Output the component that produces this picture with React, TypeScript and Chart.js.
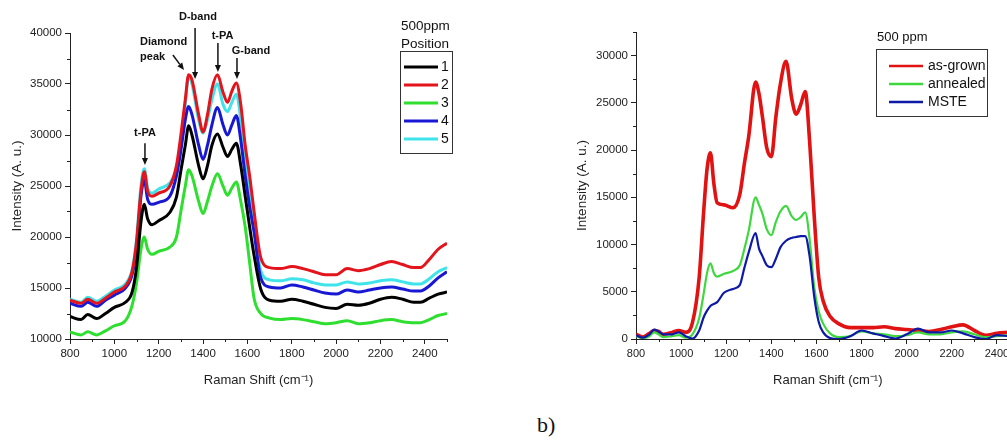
import React, { useEffect, useRef } from "react";
import { Chart, registerables } from "chart.js";

Chart.register(...registerables);

const FONT = '"Liberation Sans", Arial, sans-serif';
const AXIS = "#222";

// ---------- tick labels ----------
const xTickValues = [800, 1000, 1200, 1400, 1600, 1800, 2000, 2200, 2400];
const leftYTickValues = [10000, 15000, 20000, 25000, 30000, 35000, 40000];
const rightYTickValues = [0, 5000, 10000, 15000, 20000, 25000, 30000];

// ---------- Left panel: 500ppm, positions 1-5 ----------
const shiftLeft = [
  800, 850, 880, 920, 960, 1000, 1050, 1080, 1100, 1120,
  1135, 1150, 1170, 1200, 1250, 1280, 1300, 1320, 1335, 1350,
  1380, 1400, 1420, 1440, 1465, 1490, 1510, 1530, 1550, 1570,
  1590, 1610, 1630, 1660, 1700, 1750, 1800, 1850, 1900, 1950,
  2000, 2050, 2100, 2150, 2200, 2250, 2300, 2350, 2380, 2420, 2460, 2500,
];
const position1 = [
  12200, 11900, 12400, 12000, 12500, 13100, 13600, 14600, 17000, 21500,
  23200, 21800, 21200, 21600, 22400, 23900, 26500, 29000, 30900, 30000,
  27000, 25700, 27000, 29000, 30100, 28800, 27900, 28600, 29200, 27000,
  24000, 21000, 18200, 14900, 13800, 13700, 13900, 13700, 13400, 13100,
  13000, 13400, 13300, 13500, 13900, 14100, 13900, 13600, 13600, 14000, 14400, 14600,
];
const position2 = [
  13800, 13500, 13900, 13500, 14000, 14600, 15200, 16600, 19500, 24500,
  26400, 24500, 24000, 24300, 25000, 27000, 30000, 33500, 35900, 35400,
  32000, 30300, 32000, 34500, 35900, 34200, 33200, 34300, 35100, 33000,
  29000, 26000, 22500, 18000, 17000, 16900, 17100, 16900, 16600, 16300,
  16300, 16900, 16700, 16900, 17300, 17600, 17300, 17000, 17000, 17800, 18800, 19400,
];
const position3 = [
  10700, 10400, 10700, 10400, 10800, 11300, 11800, 13300, 15500, 18800,
  20000, 18800, 18300, 18600, 19000, 20000, 22500, 25000, 26600, 26000,
  23500, 22300, 23500, 25000, 26200, 25000, 24100, 24800, 25400, 23500,
  21000, 17500, 14000, 12500, 12050, 11900, 12000, 11900, 11700, 11500,
  11600, 11800, 11500, 11600, 11800, 11900, 11700, 11600, 11600, 11900, 12300, 12500,
];
const position4 = [
  13500, 13200, 13600, 13200, 13800, 14300, 15000, 16300, 19000, 24000,
  25600, 23700, 23200, 23400, 24000, 26000, 28500, 31500, 32800, 32000,
  29000, 27600, 29000, 31000, 32700, 31000, 30000, 31000, 31900, 29500,
  26000, 23000, 20500, 16000, 15100, 15000, 15300, 15100, 14800, 14500,
  14400, 14800, 14600, 14800, 15000, 15100, 14900, 14700, 14700, 15200, 16000, 16600,
];
const position5 = [
  13900, 13600, 14100, 13700, 14200, 14800, 15400, 16800, 19800, 25000,
  26700, 24800, 24300, 24700, 25300, 26600, 28800, 33100, 35800, 35000,
  31500, 30200, 31500, 33500, 35000, 33000, 32300, 33200, 34000, 31500,
  27500, 24000, 21000, 16700, 15800, 15700, 15900, 15800, 15500, 15300,
  15300, 15600, 15400, 15500, 15700, 15800, 15600, 15400, 15400, 15900, 16600, 17000,
];
const leftNames = ["1", "2", "3", "4", "5"];
const leftColors = ["#000000", "#e3141c", "#2fdf2f", "#1818d4", "#3ee4ea"];
const leftSeries = [position1, position2, position3, position4, position5];
const leftLegendTitle = ["500ppm", "Position"];

const peakLabels = [
  { lines: ["t-PA"], textX: 1138, textY: 30200, align: "center", arrow: [1138, 29200, 1138, 27060] },
  { lines: ["Diamond", "peak"], textX: 1116, textY: 39120, align: "left", arrow: [1264, 37840, 1314, 36370] },
  { lines: ["D-band"], textX: 1377, textY: 41570, align: "center", arrow: [1364, 40490, 1364, 35490] },
  { lines: ["t-PA"], textX: 1488, textY: 39700, align: "center", arrow: [1467, 39020, 1467, 36180] },
  { lines: ["G-band"], textX: 1616, textY: 38240, align: "center", arrow: [1553, 37550, 1553, 35490] },
];

// ---------- Right panel: 500 ppm as-grown / annealed / MSTE ----------
const shiftRight = [
  800, 830, 860, 880, 900, 920, 960, 990, 1020, 1050,
  1080, 1100, 1115, 1130, 1145, 1160, 1190, 1230, 1260, 1280,
  1300, 1330, 1345, 1360, 1380, 1400, 1420, 1440, 1465, 1490,
  1510, 1530, 1550, 1570, 1590, 1610, 1630, 1660, 1700, 1750,
  1800, 1850, 1900, 1950, 2000, 2050, 2100, 2150, 2200, 2250,
  2300, 2350, 2400, 2450,
];
const asGrown = [
  500, 200, 600, 900, 800, 500, 700, 900, 700, 1700,
  6500, 13500, 18000, 19700, 16500, 14400, 14200, 13900, 15300, 18500,
  21500, 27200, 26000, 23600, 20200, 19300, 23500, 27000, 29400, 25500,
  23800, 24800, 26200, 20800, 13000, 6500, 4000, 2400, 1600, 1200,
  1200, 1200, 1300, 1100, 1000, 900, 800, 1000, 1300, 1500,
  900, 400, 600, 700,
];
const annealed = [
  300, 100, 300, 700, 500, 200, 300, 400, 150, 500,
  2200, 4800, 7000, 8000, 7000, 6600, 6900, 7200, 7800, 9500,
  11500, 15000, 14200, 13300, 11600, 11000, 12400, 13500, 14100, 13000,
  12600, 12900, 13400, 10500, 5500, 2900, 1600, 600, 200, 300,
  800, 600, 500, 300, 400, 700, 500, 500, 700, 800,
  500, 200, 300, 400,
];
const mste = [
  400, 150, 500, 1000, 800, 500, 500, 700, 300, 50,
  900, 2300, 3000, 3500, 3700, 3900, 4900, 5300, 5700, 7500,
  9200, 11200, 9600, 8800, 7800, 7600, 8500, 9700, 10400, 10700,
  10800, 10900, 10900, 8700, 4500, 1800, 700, 100, 0, 300,
  900, 600, 300, 50, 500, 1100, 700, 700, 900, 600,
  200, 0, 400, 300,
];
const rightNames = ["as-grown", "annealed", "MSTE"];
const rightColors = ["#e01212", "#3ed83e", "#0c1aa6"];
const rightWidths = [3.6, 2.2, 2.2];
const rightSeries = [asGrown, annealed, mste];
const rightLegendTitle = ["500 ppm"];

// ---------- plugins ----------
function minorTicks(xMinor: number, xMajor: number, yMinor: number, yMajor: number) {
  return {
    id: "minorTicks",
    afterDraw(chart: any) {
      const { ctx, chartArea, scales } = chart;
      const x = scales.x, y = scales.y;
      ctx.save();
      ctx.strokeStyle = AXIS;
      ctx.lineWidth = 1;
      ctx.beginPath();
      const nx = Math.round((x.max - x.min) / xMinor);
      for (let i = 0; i <= nx; i++) {
        const v = x.min + i * xMinor;
        if (Math.round(v) % xMajor === 0) continue;
        const px = Math.round(x.getPixelForValue(v)) + 0.5;
        ctx.moveTo(px, chartArea.bottom);
        ctx.lineTo(px, chartArea.bottom + 3);
      }
      const ny = Math.round((y.max - y.min) / yMinor);
      for (let i = 0; i <= ny; i++) {
        const v = y.min + i * yMinor;
        if (Math.round(v) % yMajor === 0) continue;
        const py = Math.round(y.getPixelForValue(v)) + 0.5;
        ctx.moveTo(chartArea.left - 3, py);
        ctx.lineTo(chartArea.left, py);
      }
      ctx.stroke();
      ctx.restore();
    },
  };
}

function boxLegend(cfg: {
  title: string[]; titleX: number; titleY: number; titleGap: number; titleSize: number;
  bx: number; by: number; bw: number; bh: number;
  lx1: number; lx2: number; tx: number; row0: number; rowGap: number; textSize: number; lineWidth: number;
}) {
  return {
    id: "boxLegend",
    afterDraw(chart: any) {
      const ctx = chart.ctx;
      ctx.save();
      ctx.fillStyle = "#111";
      ctx.textBaseline = "middle";
      ctx.textAlign = "left";
      ctx.font = `${cfg.titleSize}px ${FONT}`;
      cfg.title.forEach((t, i) => ctx.fillText(t, cfg.titleX, cfg.titleY + i * cfg.titleGap));
      ctx.fillStyle = "#fff";
      ctx.fillRect(cfg.bx, cfg.by, cfg.bw, cfg.bh);
      ctx.strokeStyle = "#333";
      ctx.lineWidth = 1;
      ctx.strokeRect(cfg.bx + 0.5, cfg.by + 0.5, cfg.bw, cfg.bh);
      ctx.font = `${cfg.textSize}px ${FONT}`;
      chart.data.datasets.forEach((ds: any, i: number) => {
        const yy = cfg.row0 + i * cfg.rowGap;
        ctx.strokeStyle = ds.borderColor;
        ctx.lineWidth = cfg.lineWidth;
        ctx.beginPath();
        ctx.moveTo(cfg.lx1, yy);
        ctx.lineTo(cfg.lx2, yy);
        ctx.stroke();
        ctx.fillStyle = "#111";
        ctx.fillText(ds.label, cfg.tx, yy + 0.5);
      });
      ctx.restore();
    },
  };
}

const peakLabelPlugin = {
  id: "peakLabels",
  afterDraw(chart: any) {
    const { ctx, scales } = chart;
    const x = scales.x, y = scales.y;
    ctx.save();
    ctx.fillStyle = "#111";
    ctx.strokeStyle = "#111";
    ctx.font = `bold 11px ${FONT}`;
    ctx.textBaseline = "middle";
    for (const a of peakLabels) {
      ctx.textAlign = a.align;
      const tx = x.getPixelForValue(a.textX);
      const ty = y.getPixelForValue(a.textY);
      a.lines.forEach((l, i) => ctx.fillText(l, tx, ty + i * 15));
      const [ax1, ay1, ax2, ay2] = a.arrow;
      const x1 = x.getPixelForValue(ax1), y1 = y.getPixelForValue(ay1);
      const x2 = x.getPixelForValue(ax2), y2 = y.getPixelForValue(ay2);
      const ang = Math.atan2(y2 - y1, x2 - x1);
      const hl = 7, hw = 3;
      const bx = x2 - hl * Math.cos(ang), by = y2 - hl * Math.sin(ang);
      ctx.lineWidth = 1.5;
      ctx.beginPath();
      ctx.moveTo(x1, y1);
      ctx.lineTo(bx, by);
      ctx.stroke();
      ctx.beginPath();
      ctx.moveTo(x2, y2);
      ctx.lineTo(bx + hw * Math.sin(ang), by - hw * Math.cos(ang));
      ctx.lineTo(bx - hw * Math.sin(ang), by + hw * Math.cos(ang));
      ctx.closePath();
      ctx.fill();
    }
    ctx.restore();
  },
};

// ---------- shared axis builders ----------
function xAxis(min: number, max: number, fontSize: number) {
  return {
    type: "linear" as const,
    min,
    max,
    afterBuildTicks: (s: any) => {
      s.ticks = xTickValues.map((v) => ({ value: v }));
    },
    ticks: {
      autoSkip: false,
      maxRotation: 0,
      color: AXIS,
      padding: 3,
      font: { family: FONT, size: fontSize },
      callback: (v: any) => String(v),
    },
    grid: { drawOnChartArea: false, drawTicks: true, tickLength: 5, color: AXIS, lineWidth: 1 },
    border: { display: true, color: AXIS, width: 1 },
    title: {
      display: true,
      text: "Raman Shift (cm⁻¹)",
      color: AXIS,
      font: { family: FONT, size: 13 },
      padding: { top: 0, bottom: 12 },
    },
    afterFit: (s: any) => {
      s.height = 61;
    },
  };
}

function yAxis(min: number, max: number, tickValues: number[], width: number, titlePad: number, fontSize: number) {
  return {
    type: "linear" as const,
    min,
    max,
    afterBuildTicks: (s: any) => {
      s.ticks = tickValues.map((v) => ({ value: v }));
    },
    ticks: {
      autoSkip: false,
      color: AXIS,
      padding: 3,
      font: { family: FONT, size: fontSize },
      callback: (v: any) => String(v),
    },
    grid: { drawOnChartArea: false, drawTicks: true, tickLength: 5, color: AXIS, lineWidth: 1 },
    border: { display: true, color: AXIS, width: 1 },
    title: {
      display: true,
      text: "Intensity (A. u.)",
      color: AXIS,
      font: { family: FONT, size: 13.5 },
      padding: { top: titlePad, bottom: 0 },
    },
    afterFit: (s: any) => {
      s.width = width;
    },
  };
}

function leftConfig(): any {
  return {
    type: "line",
    data: {
      datasets: leftSeries.map((ser, i) => ({
        label: leftNames[i],
        data: ser.map((v, j) => ({ x: shiftLeft[j], y: v })),
        borderColor: leftColors[i],
        backgroundColor: leftColors[i],
        borderWidth: 3,
        pointRadius: 0,
        cubicInterpolationMode: "monotone",
        fill: false,
      })),
    },
    options: {
      animation: false,
      responsive: false,
      devicePixelRatio: 1,
      layout: { padding: { left: 0, right: 33, top: 33, bottom: 0 } },
      plugins: { legend: { display: false }, tooltip: { enabled: false } },
      scales: { x: xAxis(800, 2500, 11.5), y: yAxis(10000, 40000, leftYTickValues, 70, 9, 11.5) },
    },
    plugins: [
      minorTicks(100, 200, 2500, 5000),
      peakLabelPlugin,
      boxLegend({
        title: leftLegendTitle, titleX: 401, titleY: 26, titleGap: 18, titleSize: 13.5,
        bx: 400, by: 51, bw: 52, bh: 102,
        lx1: 404, lx2: 438, tx: 441, row0: 67, rowGap: 18, textSize: 14, lineWidth: 3,
      }),
    ],
  };
}

function rightConfig(): any {
  return {
    type: "line",
    data: {
      datasets: rightSeries.map((ser, i) => ({
        label: rightNames[i],
        data: ser.map((v, j) => ({ x: shiftRight[j], y: v })),
        borderColor: rightColors[i],
        backgroundColor: rightColors[i],
        borderWidth: rightWidths[i],
        pointRadius: 0,
        cubicInterpolationMode: "monotone",
        fill: false,
        order: 2 - i,
      })),
    },
    options: {
      animation: false,
      responsive: false,
      devicePixelRatio: 1,
      layout: { padding: { left: 0, right: 20.5, top: 32, bottom: 0 } },
      plugins: { legend: { display: false }, tooltip: { enabled: false } },
      scales: { x: xAxis(800, 2500, 11), y: yAxis(0, 32500, rightYTickValues, 66, 4, 11.5) },
    },
    plugins: [
      minorTicks(100, 200, 2500, 5000),
      boxLegend({
        title: rightLegendTitle, titleX: 307, titleY: 37, titleGap: 18, titleSize: 13,
        bx: 306, by: 49, bw: 111, bh: 67,
        lx1: 319, lx2: 353, tx: 358, row0: 66, rowGap: 18, textSize: 14, lineWidth: 2.5,
      }),
    ],
  };
}

function Panel({ left, width, height, make }: { left: number; width: number; height: number; make: () => any }) {
  const ref = useRef<HTMLCanvasElement>(null);
  useEffect(() => {
    const chart = new Chart(ref.current as HTMLCanvasElement, make());
    return () => chart.destroy();
  }, []);
  return (
    <canvas
      ref={ref}
      width={width}
      height={height}
      style={{ position: "absolute", left, top: 0, width, height, display: "block" }}
    />
  );
}

export default function App() {
  return (
    <div
      style={{
        position: "fixed",
        left: 0,
        top: 0,
        width: 1007,
        height: 441,
        overflow: "hidden",
        background: "#fff",
      }}
    >
      <Panel left={0} width={480} height={400} make={leftConfig} />
      <Panel left={570} width={470} height={400} make={rightConfig} />
      <div
        style={{
          position: "absolute",
          left: 537,
          top: 413,
          fontFamily: '"Liberation Serif", "Times New Roman", serif',
          fontSize: 22,
          lineHeight: "24px",
          color: "#111",
        }}
      >
        b)
      </div>
    </div>
  );
}
